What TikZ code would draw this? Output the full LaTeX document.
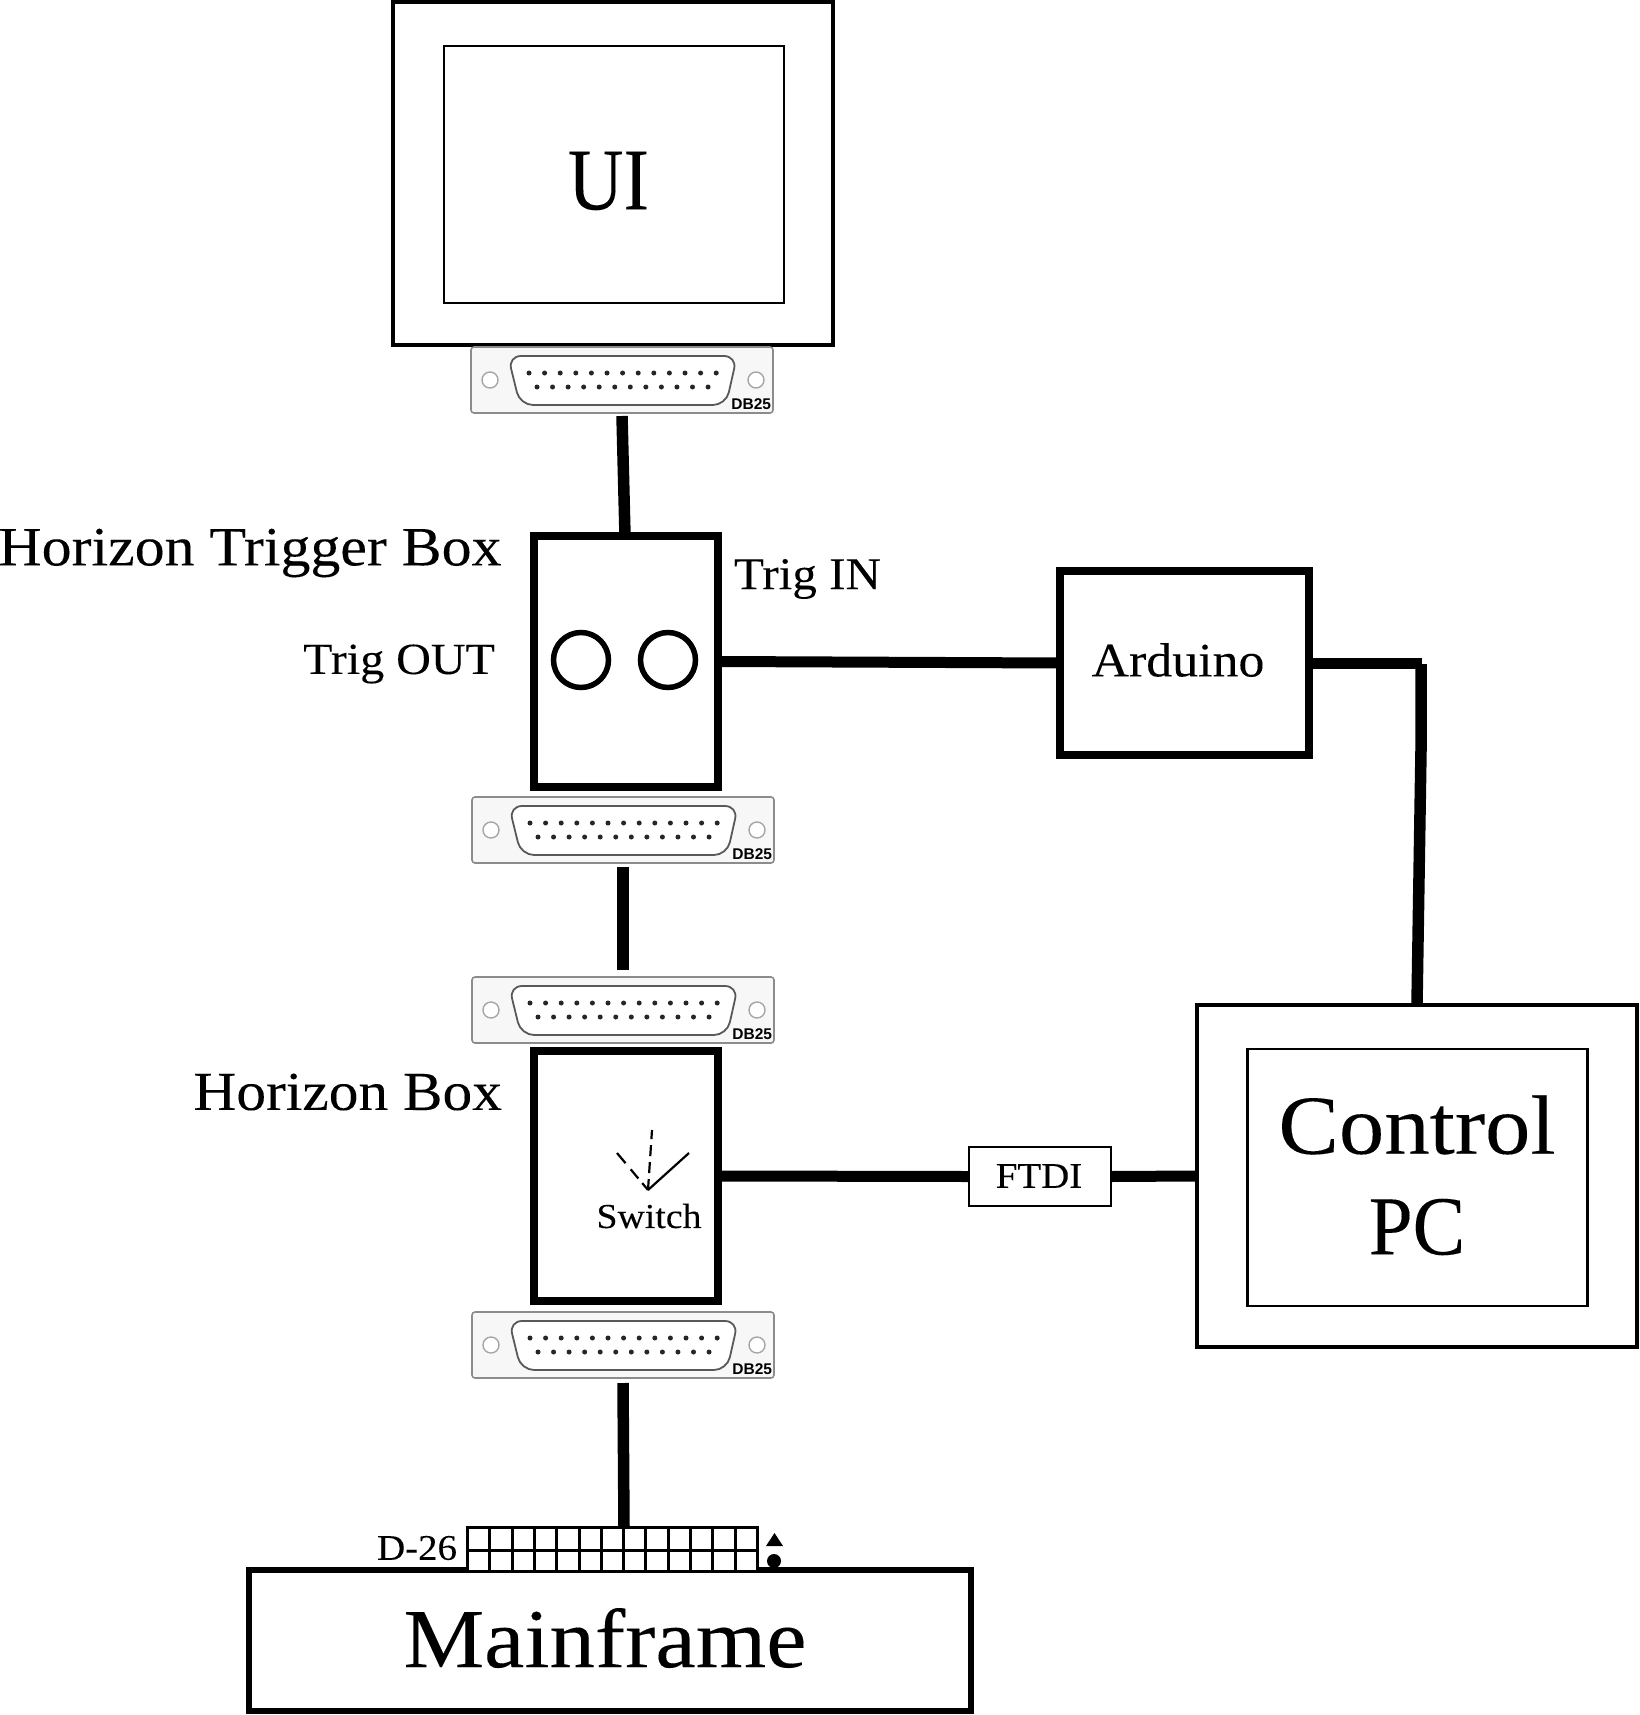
\documentclass[tikz,border=0pt]{standalone}
\usepackage{graphicx}
\usepackage{fontspec}
\setmainfont[FakeStretch=1.08,FakeBold=0.12]{Liberation Serif}
\newfontfamily\dbfont{Liberation Sans}
\newcommand{\fsz}[1]{\fontsize{#1}{#1}\selectfont}
\tikzset{
  x=1pt,y=-1pt,
  box/.style={draw=black,rectangle,outer sep=0pt,inner sep=0pt,fill=white},
  monitorout/.style={box,line width=4.2pt},
  monitorin/.style={box,line width=2.6pt},
  thickbox/.style={box,line width=8pt},
  wire/.style={line width=11.5pt,draw=black},
  midwire/.style={line width=11pt,draw=black},
  label/.style={inner sep=0pt,outer sep=0pt,text=black,align=center},
  plate/.style={rectangle,rounded corners=3pt,draw=black!45,line width=1.6pt,fill=black!3,inner sep=0pt,outer sep=0pt,minimum width=302pt,minimum height=66pt},
  shellline/.style={draw=black!65,line width=1.8pt,fill=white},
  hole/.style={circle,draw=black!35,line width=1.4pt,fill=white,inner sep=0pt,minimum size=16pt},
  pin/.style={circle,fill=black!85,inner sep=0pt,minimum size=5pt},
  switchline/.style={line width=2.2pt,draw=black},
}
% name, left x, top y
\newcommand{\dbconn}[3]{%
  \node[plate,anchor=north west] (#1) at (#2,#3) {};
  \begin{scope}[shift={(#2,#3)}]
    \draw[shellline,rounded corners=13pt] (37,9) -- (266,9) -- (255,58) -- (49,58) -- cycle;
    \node[hole] (#1h1) at (19,33) {};
    \node[hole] (#1h2) at (285,33) {};
    \foreach \i in {0,...,12} \node[pin] (#1a\i) at ({58+\i*15.6},26) {};
    \foreach \i in {0,...,11} \node[pin] (#1b\i) at ({66+\i*15.55},40) {};
    \node[label,anchor=south east,font=\dbfont\bfseries\fsz{15.5}] (#1t) at (300,63) {DB25};
  \end{scope}
}
\begin{document}
\begin{tikzpicture}
\useasboundingbox (0,0) rectangle (1640,1715);

% UI monitor
\node[monitorout,minimum width=440pt,minimum height=343pt] (uio) at (613,173.5) {};
\node[monitorin,minimum width=340pt,minimum height=257pt] (uii) at (614,174.5) {};
\node[label,font=\fsz{88}] (uit) at (608.5,181) {\scalebox{0.81}[1]{UI}};

% connectors
\dbconn{dba}{471}{347}
\dbconn{dbb}{472}{797}
\dbconn{dbc}{472}{977}
\dbconn{dbd}{472}{1312}

% Horizon Trigger Box
\node[thickbox,minimum width=184pt,minimum height=251pt] (trig) at (625.5,661.5) {};
\node[circle,draw=black,line width=5.5pt,minimum size=55pt,inner sep=0pt] (cout) at (581,660) {};
\node[circle,draw=black,line width=5.5pt,minimum size=55pt,inner sep=0pt] (cin) at (668,660) {};
\node[label,anchor=east,font=\fsz{55.4}] (ltb) at (501.5,553) {Horizon Trigger Box};
\node[label,anchor=east,font=\fsz{44.5}] (lout) at (495,664) {Trig OUT};
\node[label,anchor=west,font=\fsz{45.5}] (lin) at (734,579) {Trig IN};

% Arduino
\node[box,line width=7.5pt,minimum width=249pt,minimum height=184pt] (ard) at (1184.5,663) {};
\node[label,font=\fsz{48}] (ardt) at (1178,660) {Arduino};

% Control PC
\node[monitorout,minimum width=440pt,minimum height=342pt] (pco) at (1417,1176) {};
\node[monitorin,minimum width=340pt,minimum height=257pt] (pci) at (1417.5,1177.5) {};
\node[label,font=\fsz{84}] (pct1) at (1417,1125) {Control};
\node[label,font=\fsz{84}] (pct2) at (1417,1227) {\scalebox{0.87}[1]{PC}};

% Horizon Box
\node[thickbox,minimum width=184pt,minimum height=250pt] (hbox) at (625.5,1176) {};
\node[label,anchor=east,font=\fsz{55}] (lhb) at (502,1092) {Horizon Box};
\node[label,font=\fsz{35}] (sw) at (649,1216) {Switch};
\coordinate (swv) at (648,1190);
\coordinate (sw1) at (689,1153);
\coordinate (sw2) at (652,1130);
\coordinate (sw3) at (617,1153);
\draw[switchline] (swv) -- (sw1);
\draw[switchline,dash pattern=on 11pt off 6pt] (swv) -- (sw2);
\draw[switchline,dash pattern=on 9pt off 6pt on 12pt off 8pt on 14pt off 60pt] (swv) -- (sw3);

% FTDI
\node[box,line width=2pt,minimum width=142pt,minimum height=59pt] (ftdi) at (1039.5,1176.5) {};
\node[label,font=\fsz{36}] (ftdit) at (1039,1176) {FTDI};

% Mainframe
\node[box,line width=5.5pt,minimum width=722pt,minimum height=141pt] (main) at (610,1640.5) {};
\node[label,font=\fsz{84}] (maint) at (605,1638) {Mainframe};

% D-26 header
\node[box,line width=3pt,minimum width=290pt,minimum height=44pt,anchor=north west] (dhead) at (467.5,1527) {};
\foreach \i in {1,...,12} \draw[line width=3pt] ({467.5+\i*22.31},1527) -- ({467.5+\i*22.31},1570);
\draw[line width=3pt] (467.5,1550) -- (757.5,1550);
\node[label,anchor=east,font=\fsz{36}] (dt) at (457,1548) {D-26};
\fill (766,1546) -- (783,1546) -- (774.5,1533) -- cycle;
\node[circle,fill=black,inner sep=0pt,minimum size=14pt] (dpin) at (774,1561) {};

% wires
\coordinate (w1a) at (622,416);
\coordinate (w1b) at (625,536);
\draw[wire] (w1a) -- (w1b);
\draw[midwire] (trig.east) ++(3,0) coordinate (w2a) -- (ard.west);
\coordinate (w3a) at (623,867);
\coordinate (w3b) at (623,970);
\draw[wire] (w3a) -- (w3b);
\coordinate (w4a) at (623,1383);
\coordinate (w4b) at (624,1527);
\draw[wire] (w4a) -- (w4b);
\coordinate (w5a) at (1309,663.5);
\coordinate (w5b) at (1422,663.5);
\coordinate (w5c) at (1421,664);
\coordinate (w5d) at (1421,750);
\coordinate (w5e) at (1417,1004);
\draw[midwire] (w5a) -- (w5b);
\draw[wire] (w5c) -- (w5d) -- (w5e);
\draw[midwire] (hbox.east) ++(3,0) coordinate (w6a) -- (ftdi.west);
\draw[midwire] (ftdi.east) -- (pco.west);
\end{tikzpicture}
\end{document}
